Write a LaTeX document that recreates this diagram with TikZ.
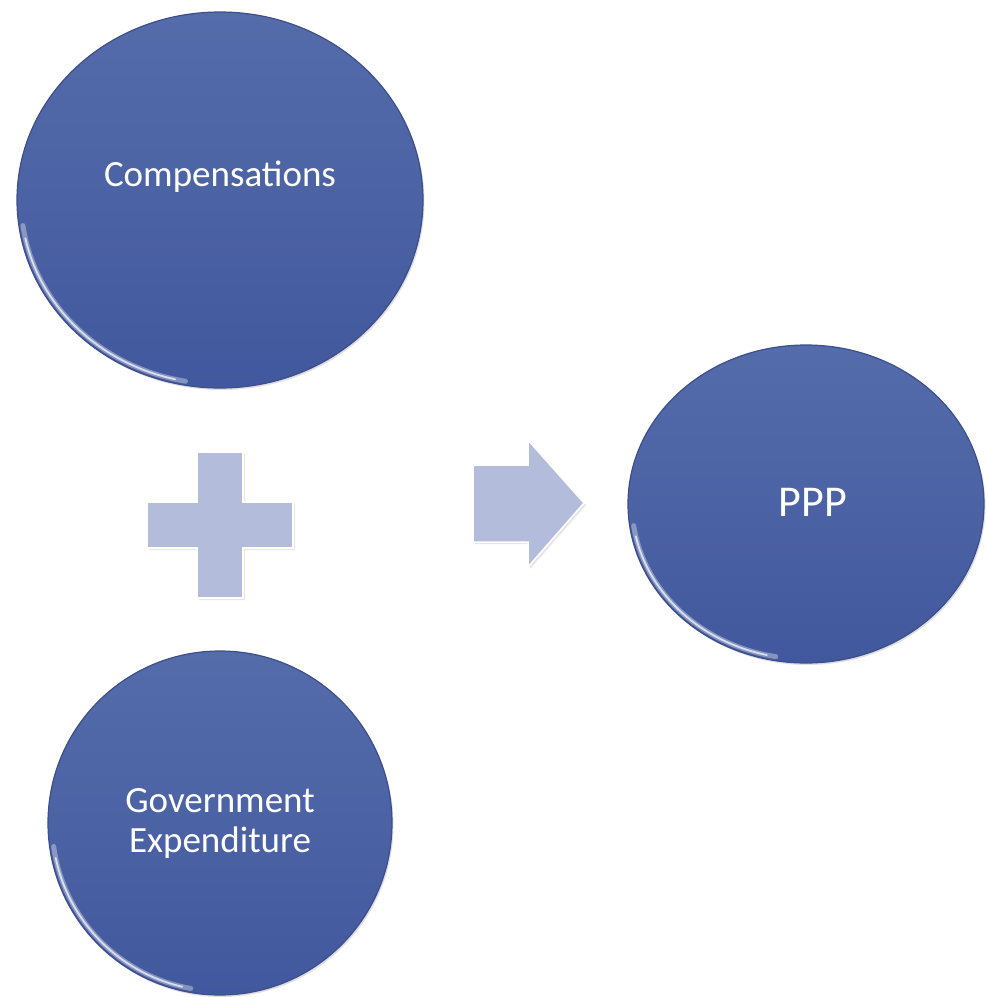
\documentclass[tikz,border=0pt]{standalone}
\usepackage{fontspec}
\setmainfont{Carlito}
\usetikzlibrary{shapes.geometric,shadows}
\definecolor{ctop}{RGB}{84,108,170}
\definecolor{cbot}{RGB}{66,88,158}
\definecolor{crim}{RGB}{60,78,140}
\definecolor{symf}{RGB}{180,188,220}
\begin{document}
\begin{tikzpicture}[x=1pt,y=-1pt,
  bubble/.style={ellipse, inner sep=0pt, top color=ctop, bottom color=cbot, draw=crim, line width=1.2pt,
    drop shadow={opacity=0.25, shadow xshift=1.5pt, shadow yshift=-2pt}},
  rim/.style={white, opacity=0.35, line width=5pt, line cap=round},
  rimcore/.style={white, opacity=0.7, line width=1.8pt, line cap=round},
  lbl/.style={text=white, align=center, inner sep=0pt},
  sym/.style={fill=symf, draw=white, line width=1.5pt, line join=miter,
    drop shadow={opacity=0.2, shadow xshift=2pt, shadow yshift=-2pt}}]
\useasboundingbox (0,0) rectangle (987,997);
% bubbles
\node[bubble, minimum width=406pt, minimum height=376pt] (comp) at (220,200) {};
\node[bubble, minimum width=344pt, minimum height=344pt] (gov) at (220,823) {};
\node[bubble, minimum width=356pt, minimum height=318pt] (ppp) at (806,504) {};
% rim highlights (lower left)
\draw[rim] (comp.center) ++(100:199 and 184) arc[start angle=100, end angle=172, x radius=199, y radius=184];
\draw[rimcore] (comp.center) ++(103:199 and 184) arc[start angle=103, end angle=168, x radius=199, y radius=184];
\draw[rim] (gov.center) ++(100:168 and 168) arc[start angle=100, end angle=172, x radius=168, y radius=168];
\draw[rimcore] (gov.center) ++(103:168 and 168) arc[start angle=103, end angle=168, x radius=168, y radius=168];
\draw[rim] (ppp.center) ++(100:174 and 155) arc[start angle=100, end angle=172, x radius=174, y radius=155];
\draw[rimcore] (ppp.center) ++(103:174 and 155) arc[start angle=103, end angle=168, x radius=174, y radius=155];
% labels
\node[lbl, font=\fontsize{37}{40}\selectfont] (compt) at (220,177) {Compensations};
\node[lbl, font=\fontsize{37}{40}\selectfont] (govt) at (220,823) {Government\\Expenditure};
\node[lbl, font=\fontsize{44}{50}\selectfont] (pppt) at (813,502) {PPP};
% plus sign
\path[sym] (197,452) -- (243,452) -- (243,502) -- (293,502) -- (293,548) -- (243,548) -- (243,598)
  -- (197,598) -- (197,548) -- (147,548) -- (147,502) -- (197,502) -- cycle;
% arrow
\path[sym] (473,465) -- (528,465) -- (528,440) -- (584,503) -- (528,567) -- (528,542) -- (473,542) -- cycle;
\end{tikzpicture}
\end{document}
